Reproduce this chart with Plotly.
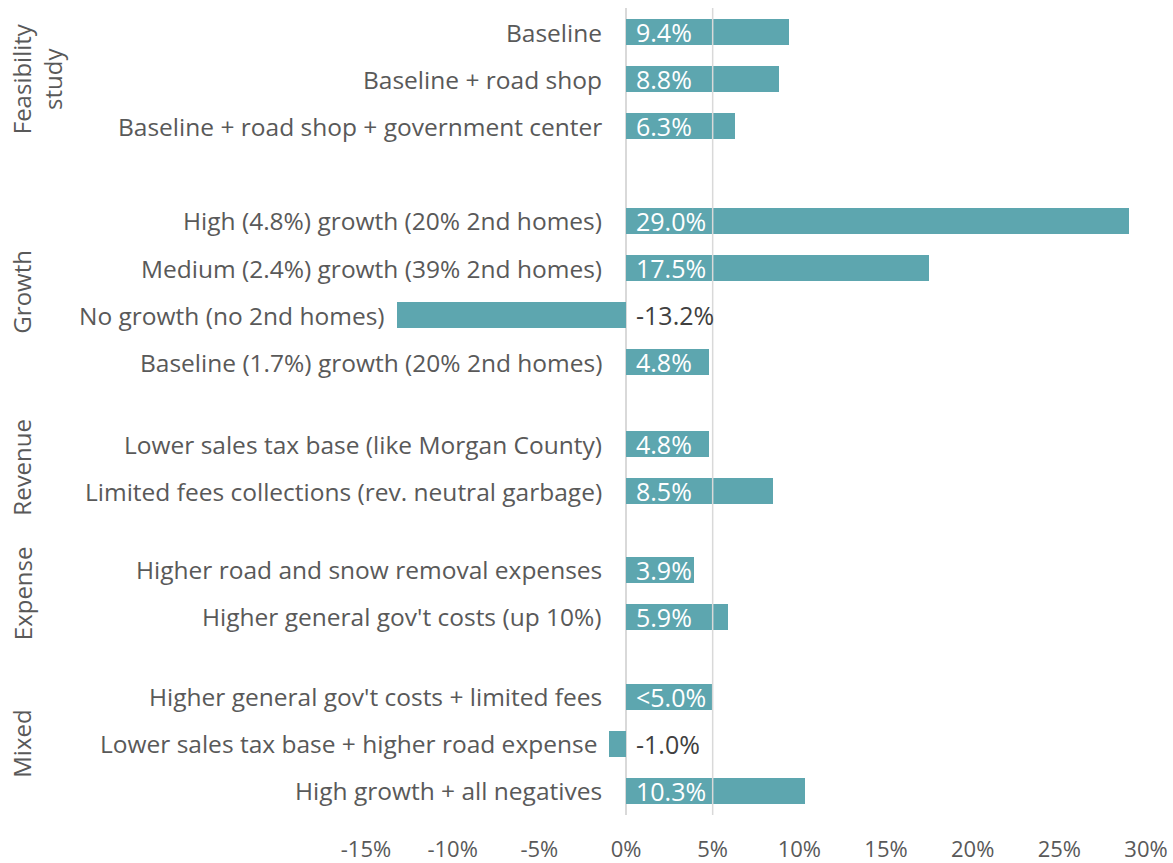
import plotly.graph_objects as go

# ---- data ----
groups = ["Feasibility<br>study", "Growth", "Revenue", "Expense", "Mixed"]
group_sizes = [3, 4, 2, 2, 3]
categories = [
    "Baseline",
    "Baseline + road shop",
    "Baseline + road shop + government center",
    "High (4.8%) growth (20% 2nd homes)",
    "Medium (2.4%) growth (39% 2nd homes)",
    "No growth (no 2nd homes)",
    "Baseline (1.7%) growth (20% 2nd homes)",
    "Lower sales tax base (like Morgan County)",
    "Limited fees collections (rev. neutral garbage)",
    "Higher road and snow removal expenses",
    "Higher general gov't costs (up 10%)",
    "Higher general gov't costs + limited fees",
    "Lower sales tax base + higher road expense",
    "High growth + all negatives",
]
values = [9.4, 8.8, 6.3, 29.0, 17.5, -13.2, 4.8, 4.8, 8.5, 3.9, 5.9, 5.0, -1.0, 10.3]
value_labels = ["9.4%", "8.8%", "6.3%", "29.0%", "17.5%", "-13.2%", "4.8%",
                "4.8%", "8.5%", "3.9%", "5.9%", "<5.0%", "-1.0%", "10.3%"]
x_ticks = [-15, -10, -5, 0, 5, 10, 15, 20, 25, 30]
x_tick_labels = [f"{t}%" for t in x_ticks]

# ---- layout helpers ----
group_gaps = [2.0, 1.73, 1.66, 1.69]  # row spacing between groups
positions = []
p = 0.0
for gi, n in enumerate(group_sizes):
    for k in range(n):
        positions.append(p)
        if k < n - 1:
            p += 1.0
    if gi < len(group_gaps):
        p += group_gaps[gi]

BAR = "#5DA6AF"
TXT = "#595959"
FONT = "Open Sans"
L, R, T, B = 366, 27, 8, 48
W, H = 1173, 863
plot_w = W - L - R

fig = go.Figure()
fig.add_trace(go.Bar(
    x=values, y=positions, orientation="h", width=0.55,
    marker=dict(color=BAR, line=dict(width=0)), hoverinfo="skip",
))

annotations = []
for c, v, lab, y in zip(categories, values, value_labels, positions):
    annotations.append(dict(
        x=min(0, v), y=y, xref="x", yref="y", text=c, showarrow=False,
        xanchor="right", yanchor="middle", xshift=-22 if v >= 0 else -10,
        font=dict(family=FONT, size=24.5, color=TXT),
    ))
    annotations.append(dict(
        x=0, y=y, xref="x", yref="y", text=lab, showarrow=False,
        xanchor="left", yanchor="middle", xshift=8,
        font=dict(family=FONT, size=25, color="white" if v >= 0 else "#404040"),
    ))

idx = 0
for g, n in zip(groups, group_sizes):
    yc = (positions[idx] + positions[idx + n - 1]) / 2
    idx += n
    cx = 37 if "<br>" in g else 22
    annotations.append(dict(
        x=(cx - L) / plot_w, y=yc, xref="paper", yref="y", text=g,
        showarrow=False, textangle=-90, xanchor="center", yanchor="middle",
        font=dict(family=FONT, size=24, color=TXT),
    ))

fig.update_layout(
    width=W, height=H, autosize=False,
    margin=dict(l=L, r=R, t=T, b=B, autoexpand=False),
    plot_bgcolor="white", paper_bgcolor="white",
    showlegend=False, bargap=0,
    annotations=annotations,
    shapes=[dict(type="line", xref="x", yref="paper", x0=5, x1=5, y0=0, y1=1,
                 line=dict(color="#D9D9D9", width=1.5), layer="above")],
    xaxis=dict(
        range=[-15, 30], tickvals=x_ticks, ticktext=x_tick_labels,
        showgrid=False, zeroline=True, zerolinecolor="#D9D9D9", zerolinewidth=1.5,
        ticks="outside", ticklen=15, tickcolor="rgba(0,0,0,0)",
        tickfont=dict(family=FONT, size=22, color=TXT), showline=False,
        automargin=False, ticklabeloverflow="allow",
    ),
    yaxis=dict(
        range=[16.59, -0.51], showticklabels=False, showgrid=False,
        zeroline=False, showline=False, automargin=False,
    ),
)

fig.write_html(
    "out.html",
    config={"responsive": False, "displayModeBar": False},
    post_script="document.body.style.margin='0';document.body.style.overflow='hidden';",
)
